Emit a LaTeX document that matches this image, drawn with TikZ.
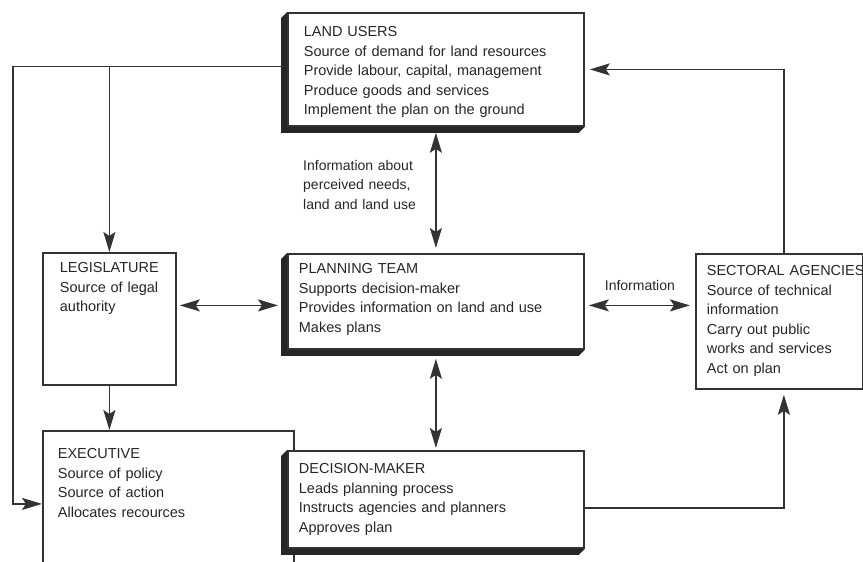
\documentclass[tikz,border=0pt]{standalone}
\usepackage{fontspec}
\setmainfont{Liberation Sans}
\usepackage{xcolor}
\usepackage{tikz}
\usetikzlibrary{positioning,arrows.meta}
\newcommand{\slab}[1]{\fill[black!85] (#1.north west) -- ([shift={(-6,6)}]#1.north west) -- ([shift={(-6,6)}]#1.south west) -- ([shift={(-6,6)}]#1.south east) -- (#1.south east) -- (#1.south west) -- cycle;}

\begin{document}
\begin{tikzpicture}[x=1pt, y=-1pt,
  box/.style={draw=black!80, line width=1.8pt, fill=white, anchor=north west, align=left, inner ysep=0pt, text=black!85, font=\fontsize{14.5}{19.5}\selectfont},
  arr/.style={draw=black!80, line width=1.8pt, -{Stealth[length=20pt,width=12pt,inset=4pt]}},
  both/.style={arr, {Stealth[length=20pt,width=12pt,inset=4pt]}-{Stealth[length=20pt,width=12pt,inset=4pt]}},
  lbl/.style={text=black!85, inner sep=0pt, font=\fontsize{14}{19.5}\selectfont}]
\useasboundingbox (0,0) rectangle (863,562);
\node[box, inner xsep=15pt, text width=221pt, text height=28pt, text depth=118pt] (exec) at (42,430) {EXECUTIVE\\Source of policy\\Source of action\\Allocates recources};
\node[box, inner xsep=17pt, text width=99pt, text height=20pt, text depth=112pt] (legis) at (42,252) {LEGISLATURE\\Source of legal\\authority};
\node[box, inner xsep=16pt, text width=264pt, text height=24pt, text depth=89pt] (users) at (287,12) {LAND USERS\\Source of demand for land resources\\Provide labour, capital, management\\Produce goods and services\\Implement the plan on the ground};
\node[box, inner xsep=11pt, text width=274pt, text height=20pt, text depth=75pt] (team) at (287,253) {PLANNING TEAM\\Supports decision-maker\\Provides information on land and use\\Makes plans};
\node[box, inner xsep=11pt, text width=274pt, text height=23pt, text depth=74pt] (maker) at (287,450) {DECISION-MAKER\\Leads planning process\\Instructs agencies and planners\\Approves plan};
\node[box, inner xsep=11pt, text width=145pt, text height=22pt, text depth=113pt] (sector) at (695,253) {\mbox{SECTORAL AGENCIES}\\Source of technical\\information\\Carry out public\\works and services\\Act on plan};
\slab{users}
\slab{team}
\slab{maker}
\node[lbl, anchor=north west, align=left, text width=130pt, text height=10pt] (needs) at (303,160) {Information about\\perceived needs,\\land and land use};
\coordinate (edge) at (13,0);
\coordinate (uw) at ([yshift=3pt]users.west);
\coordinate (tw) at ([yshift=-4pt]team.west);
\coordinate (te) at ([yshift=-4pt]team.east);
\coordinate (sn) at ([xshift=4.5pt]sector.north);
\coordinate (ss) at ([xshift=4.5pt]sector.south);
\coordinate (me) at ([yshift=-8.5pt]maker.east);
\draw[arr] (uw) -| (edge |- exec.west) -- (exec.west);
\draw[arr] (legis.north |- uw) -- (legis.north);
\draw[arr] (legis.south) -- (legis.south |- exec.north);
\draw[both, shorten <=3pt, shorten >=9pt] (legis.east |- tw) -- (tw);
\draw[both, shorten <=6pt, shorten >=5pt] (users.south) -- (team.north);
\draw[both, shorten <=9pt, shorten >=2pt] (team.south) -- (maker.north);
\draw[both, shorten <=4pt, shorten >=5pt] (te) -- (sector.west |- te)
  node[lbl, midway, above=14pt] (info) {Information};
\draw[arr, shorten >=5pt] (sn) |- (users.east);
\draw[arr, shorten >=5pt] (me) -| (ss);
\end{tikzpicture}
\end{document}
